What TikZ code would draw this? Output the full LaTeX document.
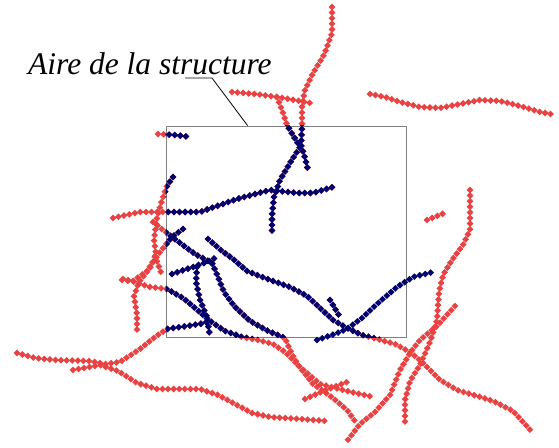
\documentclass[tikz,border=0pt]{standalone}
\usepackage{fontspec}
\setmainfont{Liberation Serif}
\usetikzlibrary{decorations.markings,calc}
\definecolor{fibred}{RGB}{233,66,66}
\definecolor{fibblue}{RGB}{0,0,110}
\tikzset{
  fib/.style={postaction=decorate,decoration={markings,
    mark=between positions 0 and 1 step 5.6pt with {\pgftransformresetnontranslations
      \fill[#1] (0,3.4pt)--(3.4pt,0)--(0,-3.4pt)--(-3.4pt,0)--cycle;}}},
  rfib/.style={fib=fibred},
  bfib/.style={fib=fibblue},
  aire/.style={draw=gray,line width=0.8pt,inner sep=0pt,minimum width=240pt,minimum height=211pt},
  lbl/.style={font=\fontsize{31.5}{36}\selectfont\itshape,inner sep=0pt,anchor=base west},
  leader/.style={line width=0.8pt}
}
% fibres, drawn once in red and once in blue inside the structure
\newcommand{\fibres}[1]{%
  \path[#1] plot coordinates {(332,7) (332,33) (324,55) (313,73) (305,90) (302,105) (302,127) (301,145) (305,158) (308,170)};
  \path[#1] plot coordinates {(277,97) (282,110) (287,125) (294,137) (300,147) (290,163) (280,180) (274,197) (272,215) (272,233)};
  \path[#1] plot coordinates {(232,92) (255,94) (277,97) (300,101) (310,103)};
  \path[#1] plot coordinates {(113,218) (140,212) (167,212) (200,212) (237,199) (270,190) (297,193) (313,193) (333,187)};
  \path[#1] plot coordinates {(158,134) (175,135) (190,137)};
  \path[#1] plot coordinates {(173,177) (167,186) (162,200) (157,218) (154,240) (156,254) (150,268) (139,282) (134,296) (137,315) (137,334)};
  \path[#1] plot coordinates {(183,229) (172,237) (160,252) (147,271) (133,281) (122,280)};
  \path[#1] plot coordinates {(153,222) (172,237) (195,254) (212,263) (218,277) (224,292) (234,306) (250,321) (268,331) (285,338) (291,352) (298,365) (313,384) (333,398) (347,410) (357,424)};
  \path[#1] plot coordinates {(208,239) (222,251) (233,259) (247,271) (270,280) (290,287) (307,296) (320,308) (333,320) (347,328) (362,335) (377,339) (395,344) (410,352) (422,362) (440,380) (457,390) (477,396) (493,401) (513,411) (533,433)};
  \path[#1] plot coordinates {(172,274) (193,267) (207,262) (215,258)};
  \path[#1] plot coordinates {(197,267) (196,282) (200,300) (207,317) (210,337)};
  \path[#1] plot coordinates {(123,279) (135,282) (150,287) (167,289) (183,298) (195,308) (210,321) (225,331) (242,337) (258,340) (273,344) (285,352) (300,367) (320,384) (347,391) (373,397)};
  \path[#1] plot coordinates {(17,353) (35,358) (55,360) (90,361) (105,364) (120,362) (140,349) (155,337) (167,329) (187,326) (200,324) (210,321)};
  \path[#1] plot coordinates {(155,256) (162,275)};
  \path[#1] plot coordinates {(73,370) (100,365) (118,371) (137,383) (157,389) (200,389) (218,395) (235,404) (252,413) (270,417) (300,419) (327,421)};
  \path[#1] plot coordinates {(370,94) (385,97) (400,102) (420,107) (440,108) (460,104) (480,100) (500,101) (520,106) (540,112) (556,115)};
  \path[#1] plot coordinates {(427,220) (447,212)};
  \path[#1] plot coordinates {(470,190) (470,230) (463,245) (452,260) (443,275) (439,292) (437,320) (430,342) (420,365) (410,381) (405,400) (405,427)};
  \path[#1] plot coordinates {(455,306) (437,326) (420,340) (410,353) (400,370) (390,395) (375,412) (360,424) (347,441)};
  \path[#1] plot coordinates {(305,399) (326,390) (347,382)};
  \path[#1] plot coordinates {(330,300) (340,317)};
}

\begin{document}
\begin{tikzpicture}[x=1pt,y=-1pt]
  \useasboundingbox (0,0) rectangle (559,447);
  \node[aire] (aire) at (286,231.5) {};
  \node[lbl] (lbl) at (28,74) {Aire de la structure};
  \coordinate (lead) at (185,78);
  \coordinate (knee) at (212,78);
  \draw[leader] (lead) -- (knee) -- ([xshift=82pt]aire.north west);

  \fibres{rfib}
  \begin{scope}
    \clip (aire.south west) rectangle (aire.north east);
    \fibres{bfib}
  \end{scope}
  \path[bfib] plot coordinates {(317,340) (332,335) (347,329) (362,318) (377,304) (397,287) (413,277) (433,272)};
\end{tikzpicture}
\end{document}
